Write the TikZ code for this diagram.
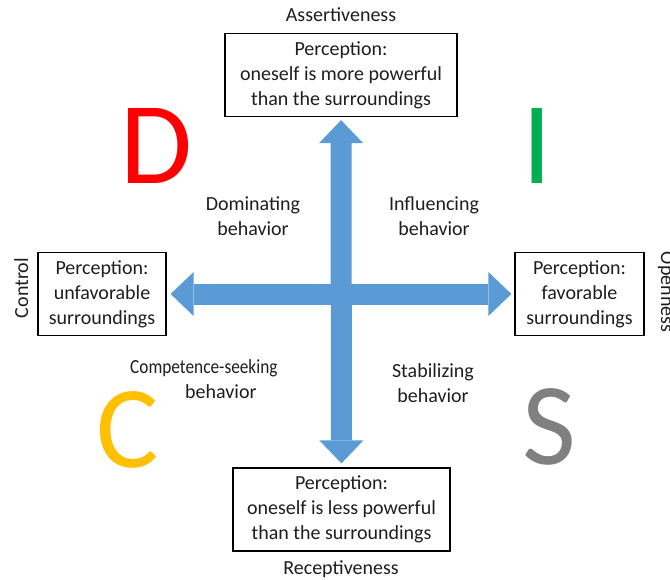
\documentclass[tikz,border=0pt]{standalone}
\usepackage{fontspec}
\setmainfont{Carlito}
\usetikzlibrary{arrows.meta}
\definecolor{arrowblue}{HTML}{5B9BD5}
\definecolor{dred}{HTML}{FF0000}
\definecolor{igreen}{HTML}{00B050}
\definecolor{cyellow}{HTML}{FFC000}
\definecolor{sgray}{HTML}{808080}
\definecolor{inkgray}{HTML}{1E1E1E}
\begin{document}
\begin{tikzpicture}[x=1pt,y=-1pt,
  txt/.style={font=\fontsize{20}{25}\selectfont, text=inkgray, align=center, inner sep=0pt},
  percbox/.style={txt, draw=black, line width=1.2pt, minimum height=83pt},
  bigletter/.style={font=\fontsize{117}{117}\selectfont, inner sep=0pt},
  axisarrow/.style={draw=arrowblue, line width=21pt,
    {Triangle[width=44pt,length=23pt,line width=0pt]}-{Triangle[width=44pt,length=23pt,line width=0pt]}}
]
\useasboundingbox (0,0) rectangle (670,579);

% perception boxes at the ends of the two axes
\node[percbox, minimum width=232pt] (top) at (341,75)
  {Perception:\\oneself is more powerful\\than the surroundings};
\node[percbox, minimum width=217pt] (bottom) at (341.5,509.5)
  {Perception:\\oneself is less powerful\\than the surroundings};
\node[percbox, minimum width=128pt] (left) at (102,294)
  {Perception:\\unfavorable\\surroundings};
\node[percbox, minimum width=129pt] (right) at (579.5,294)
  {Perception:\\favorable\\surroundings};

% the two double-headed axis arrows
\draw[axisarrow, shorten <=3pt, shorten >=4pt] (top) -- (bottom);
\draw[axisarrow, shorten <=4pt, shorten >=3pt] (left) -- (right);

% axis names
\node[txt, anchor=base] (assertlbl) at (341,21.5) {Assertiveness};
\node[txt, anchor=base] (receptlbl) at (341,574) {Receptiveness};
\node[txt, anchor=base, rotate=90] (ctrllbl) at (28,288) {Control};
\node[txt, anchor=base, rotate=-90] (openlbl) at (661,292) {Openness};

% quadrant behaviours
\node[txt] (dom) at (253,216) {Dominating\\behavior};
\node[txt] (inf) at (434,216) {Influencing\\behavior};
\node[txt, align=left, anchor=west] (comp) at (130,379)
  {\scalebox{0.865}[1]{Competence-seeking}\\\hspace*{55pt}behavior};
\node[txt] (stab) at (433,383) {Stabilizing\\behavior};

% DISC letters
\node[bigletter, text=dred] (D) at (156,146) {D};
\node[bigletter, text=igreen] (I) at (537,146) {I};
\node[bigletter, text=cyellow] (C) at (128,430) {C};
\node[bigletter, text=sgray] (S) at (549,427) {S};
\end{tikzpicture}
\end{document}
